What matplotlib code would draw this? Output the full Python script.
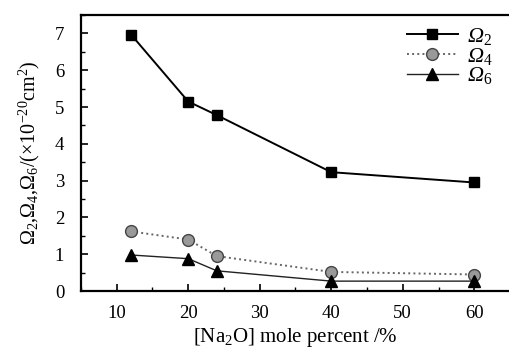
import numpy as np
import matplotlib.pyplot as plt
from matplotlib.ticker import MultipleLocator

plt.rcParams['font.family'] = ['Liberation Serif', 'DejaVu Serif']
plt.rcParams['mathtext.fontset'] = 'custom'
plt.rcParams['mathtext.rm'] = 'Liberation Serif'
plt.rcParams['mathtext.it'] = 'Liberation Serif:italic'
plt.rcParams['mathtext.cal'] = 'Liberation Serif:italic'

na2o = [12, 20, 24, 40, 60]
omega2 = [6.97, 5.15, 4.78, 3.23, 2.95]
omega4 = [1.62, 1.40, 0.95, 0.52, 0.45]
omega6 = [0.98, 0.88, 0.55, 0.27, 0.27]

fig = plt.figure(figsize=(5.09, 3.49), dpi=100)
ax = fig.add_axes([0.159, 0.166, 0.843, 0.791])

ax.plot(na2o, omega2, '-s', color='black', lw=1.4, ms=7.5, label=r'$\mathcal{\Omega}_2$')
ax.plot(na2o, omega4, ':o', color='#666666', lw=1.4, ms=8.5, mfc='#999999', mec='#444444',
        label=r'$\mathcal{\Omega}_4$')
ax.plot(na2o, omega6, '-^', color='#222222', lw=1.0, ms=8.5, mfc='black', mec='black',
        label=r'$\mathcal{\Omega}_6$')

ax.set_xlim(5, 65)
ax.set_ylim(0, 7.5)
ax.xaxis.set_major_locator(MultipleLocator(10))
ax.xaxis.set_minor_locator(MultipleLocator(5))
ax.yaxis.set_major_locator(MultipleLocator(1))
ax.yaxis.set_minor_locator(MultipleLocator(0.5))
ax.tick_params(which='both', direction='in', top=False, right=False, labelsize=13.5)
ax.tick_params(which='major', length=5, width=1.2)
ax.tick_params(which='minor', length=3, width=1.0)
ax.tick_params(axis='x', pad=10)
ax.tick_params(axis='y', pad=12)
ax.spines['right'].set_visible(False)
for s in ax.spines.values():
    s.set_linewidth(1.6)

ax.set_xlabel(r'[Na$_2$O] mole percent /%', fontsize=15, labelpad=3)
ax.set_ylabel(r'$\Omega_2$,$\Omega_4$,$\Omega_6$/($\times$10$^{-20}$cm$^2$)',
              fontsize=14.5, labelpad=9)

ax.legend(loc='upper right', bbox_to_anchor=(0.985, 0.952), bbox_transform=fig.transFigure,
          frameon=False, fontsize=16, handlelength=2.3, handletextpad=0.4,
          borderaxespad=0.0, labelspacing=-0.05)

fig.savefig('out.png', dpi=100)
